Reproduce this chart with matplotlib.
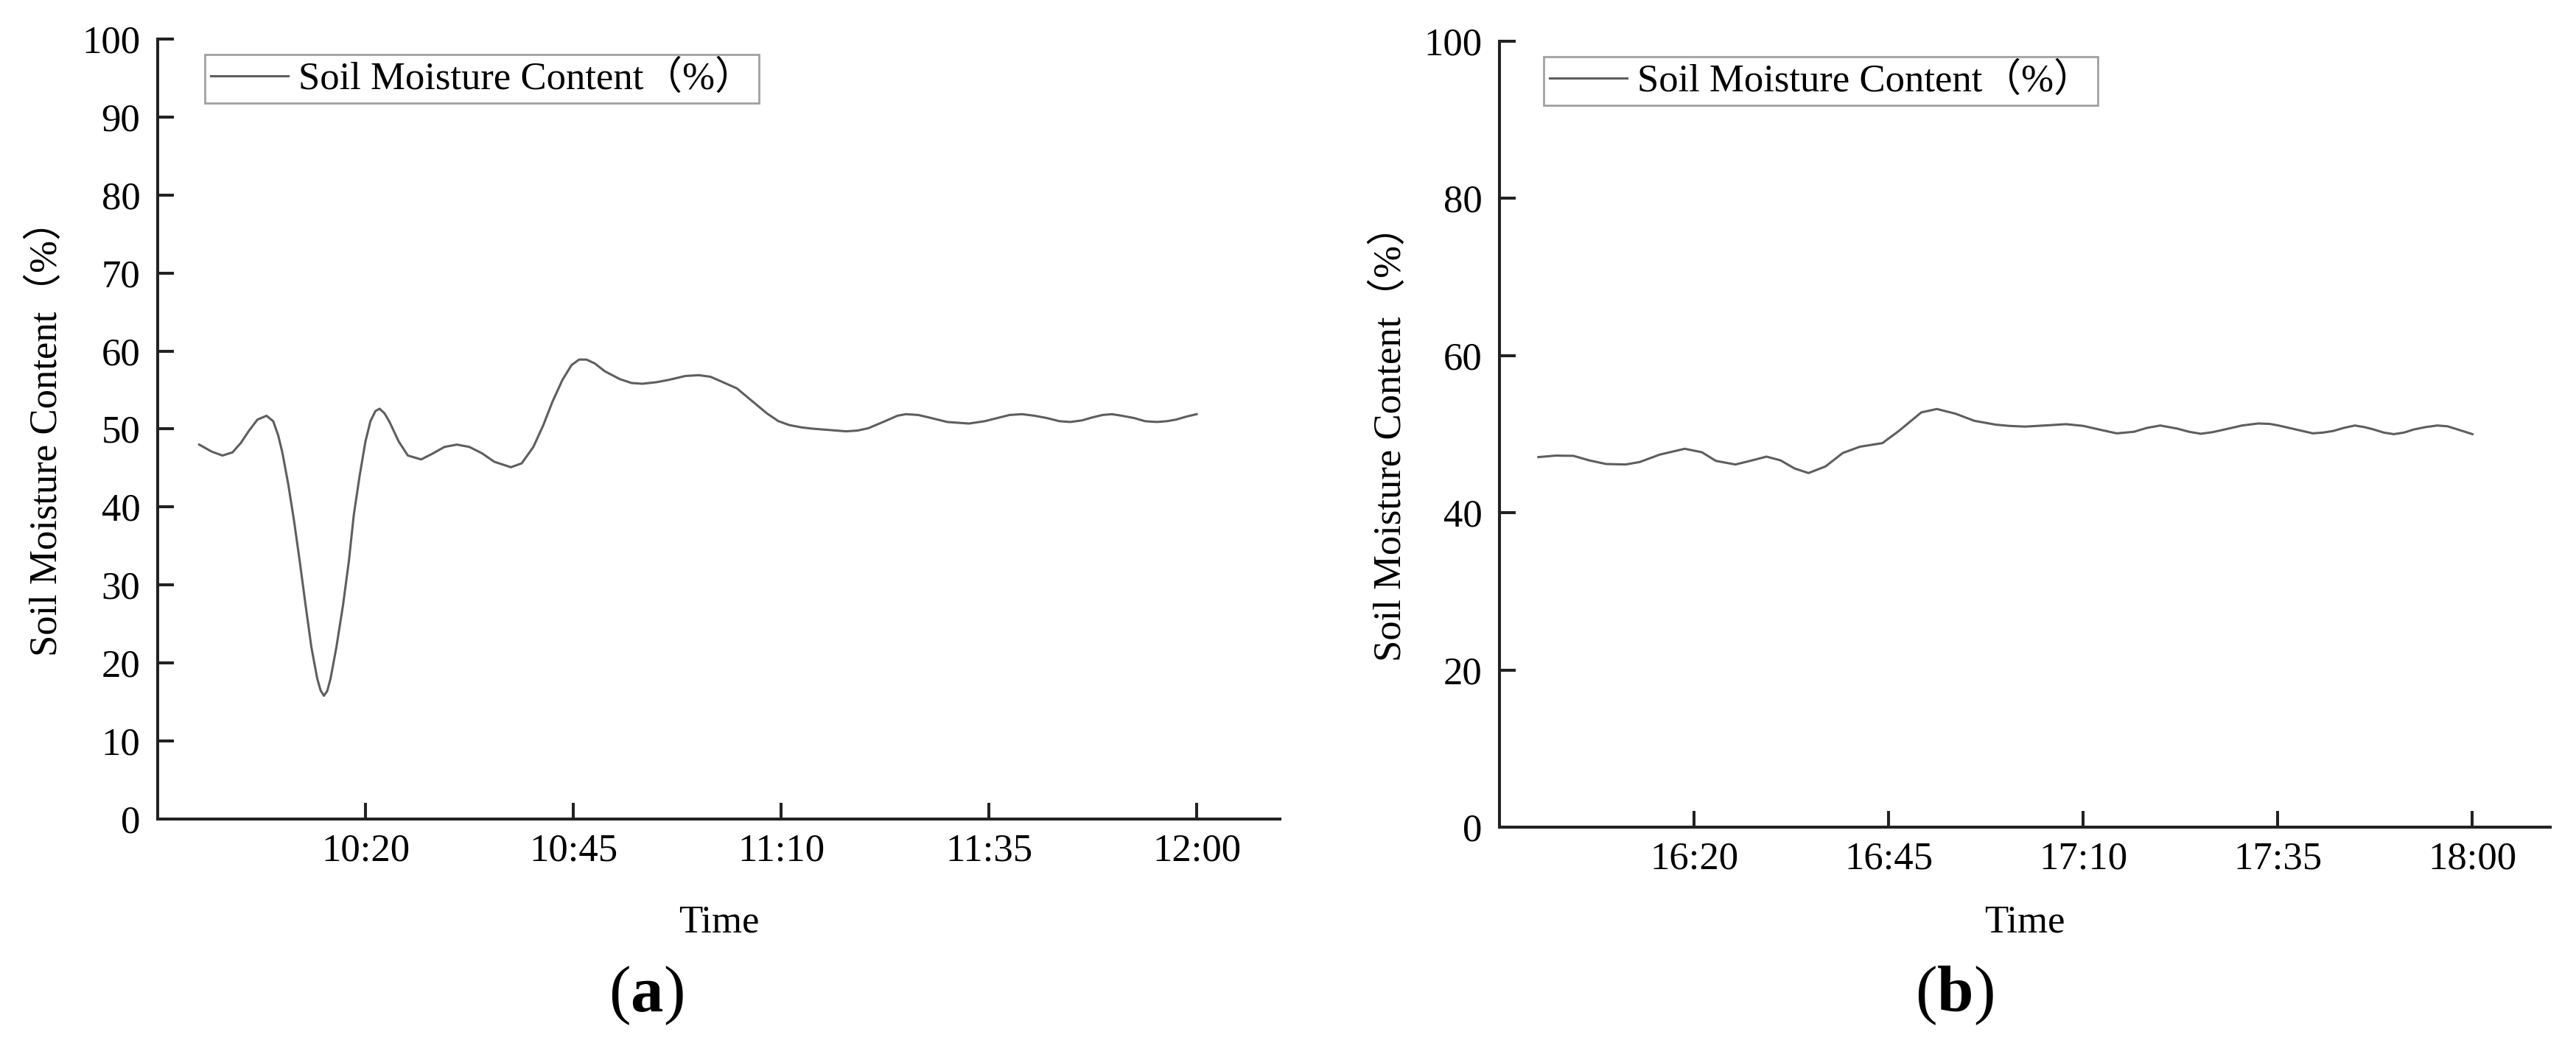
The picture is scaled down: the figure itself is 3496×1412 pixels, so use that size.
import matplotlib
matplotlib.use("Agg")
import matplotlib.pyplot as plt
import matplotlib.dates as mdates
import pandas as pd

plt.rcParams['font.family'] = ['Liberation Serif', 'Noto Sans CJK SC', 'DejaVu Sans']
plt.rcParams['mathtext.fontset'] = 'custom'
plt.rcParams['mathtext.rm'] = 'Liberation Serif'
plt.rcParams['mathtext.bf'] = 'Liberation Serif:bold'

# (a) morning run, minutes after 10:00
start_a = "2020-01-01 10:00"
min_a = [0, 1.5, 2.8, 4, 5, 6, 7, 8.1, 8.9, 9.5, 10.0, 10.7, 11.4, 12.1, 12.8, 13.5,
         14.2, 14.6, 15.0, 15.4, 15.8, 16.5, 17.3, 18.0, 18.6, 19.3, 20.0, 20.6, 21.2,
         21.7, 22.3, 22.9, 24.0, 25.1, 26.7, 28.0, 29.5, 31.0, 32.5, 34, 35.5, 37.5,
         38.8, 40.2, 41.4, 42.5, 43.7, 44.8, 45.7, 46.6, 47.6, 48.8, 50.6, 52, 53.3,
         55, 56.5, 58.5, 60.1, 61.5, 62.8, 64.7, 66.5, 68.3, 69.7, 71.0, 72.5, 73.7,
         75.5, 77.8, 79.2, 80.5, 82.5, 84, 85.0, 86.5, 88.1, 90, 92.6, 94.5, 96, 97.5,
         99.0, 100.5, 102, 103.5, 104.8, 106.2, 107.5, 108.7, 109.8, 111, 112.5,
         113.8, 115.2, 116.4, 117.5, 118.8, 120]
moist_a = [48.0, 47.1, 46.6, 47.0, 48.2, 49.8, 51.2, 51.7, 51.0, 49.2, 47.0, 43.0, 38.3,
           33.0, 27.4, 22.0, 18.0, 16.5, 15.8, 16.4, 18.0, 22.0, 27.4, 33.0, 39.0, 44.0,
           48.4, 51.0, 52.3, 52.6, 52.0, 50.9, 48.4, 46.6, 46.1, 46.8, 47.7, 48.0, 47.7,
           46.9, 45.8, 45.1, 45.6, 47.7, 50.5, 53.5, 56.3, 58.2, 58.9, 58.9, 58.4, 57.4,
           56.4, 55.9, 55.8, 56.0, 56.3, 56.8, 56.9, 56.7, 56.1, 55.2, 53.6, 52.0, 51.0,
           50.5, 50.2, 50.05, 49.9, 49.7, 49.8, 50.1, 51.0, 51.7, 51.9, 51.8, 51.4, 50.9,
           50.7, 51.0, 51.4, 51.8, 51.9, 51.7, 51.4, 51.0, 50.9, 51.1, 51.5, 51.8, 51.9,
           51.7, 51.4, 51.0, 50.9, 51.0, 51.2, 51.6, 51.9]

# (b) afternoon run, minutes after 16:00
start_b = "2020-01-01 16:00"
min_b = [0, 2.2, 4.5, 6.5, 8.7, 11.2, 13.0, 15.6, 18.8, 21.0, 22.8, 25.3, 27.5, 29.3,
         31.1, 32.9, 34.7, 36.9, 39.1, 41.3, 44.2, 46.3, 49.2, 51.2, 53.6, 56.0, 58.8,
         60.5, 62.5, 65, 67.8, 70.0, 72, 74.3, 76.5, 78.2, 79.9, 82.1, 83.6, 85.1, 86.6,
         88.2, 90.4, 92.5, 94, 95.1, 97.3, 99.5, 100.8, 102.1, 103.5, 104.9, 106.1,
         107.3, 108.6, 109.9, 111.2, 112.5, 114, 115.5, 116.8, 118.1, 120]
moist_b = [47.08, 47.27, 47.24, 46.67, 46.2, 46.14, 46.45, 47.4, 48.14, 47.7, 46.6,
           46.14, 46.67, 47.14, 46.67, 45.64, 45.05, 45.9, 47.6, 48.4, 48.86, 50.4,
           52.77, 53.2, 52.6, 51.7, 51.2, 51.05, 50.96, 51.1, 51.27, 51.05, 50.6, 50.1,
           50.3, 50.8, 51.1, 50.7, 50.3, 50.05, 50.25, 50.6, 51.1, 51.36, 51.3, 51.1,
           50.6, 50.1, 50.2, 50.4, 50.8, 51.1, 50.9, 50.6, 50.2, 50.0, 50.2, 50.6, 50.9,
           51.1, 51.0, 50.6, 50.0]

ticks_a = ["10:20", "10:45", "11:10", "11:35", "12:00"]
ticks_b = ["16:20", "16:45", "17:10", "17:35", "18:00"]
yticks_a = list(range(0, 101, 10))
yticks_b = list(range(0, 101, 20))

label = "Soil Moisture Content（%）"
FS = 38

fig = plt.figure(figsize=(34.96, 14.12), dpi=100)
ax_a = fig.add_axes([0.0612, 0.2125, 0.4356, 0.750])
ax_b = fig.add_axes([0.5821, 0.2047, 0.4079, 0.7557])


def draw(ax, start, mins, vals, ticks, yticks, ylab_x, xlab_y):
    t0 = pd.Timestamp(start)
    times = t0 + pd.to_timedelta(mins, unit="min")
    ax.plot(times, vals, color="#5e5e5e", lw=2.2, label=label)
    day = start.split(" ")[0]
    ax.set_xlim(t0 - pd.Timedelta(minutes=5), t0 + pd.Timedelta(minutes=130))
    ax.set_xticks([pd.Timestamp(day + " " + s) for s in ticks])
    ax.xaxis.set_major_formatter(mdates.DateFormatter("%H:%M"))
    ax.set_ylim(0, 100)
    ax.set_yticks(yticks)
    for s in ["top", "right"]:
        ax.spines[s].set_visible(False)
    for s in ["left", "bottom"]:
        ax.spines[s].set_linewidth(2.9)
        ax.spines[s].set_color("#222222")
    ax.tick_params(axis="both", direction="in", length=16, width=2.9,
                   color="#222222", labelsize=FS)
    ax.tick_params(axis="x", pad=14)
    ax.tick_params(axis="y", pad=17)
    ax.set_ylabel(label, fontsize=FS)
    ax.yaxis.set_label_coords(ylab_x, 0.5)
    ax.set_xlabel("Time", fontsize=FS)
    ax.xaxis.set_label_coords(0.5, xlab_y)
    leg = ax.legend(loc="upper left", bbox_to_anchor=(0.042, 0.98), fontsize=FS,
                    frameon=True, fancybox=False, borderaxespad=0, borderpad=0.15,
                    handlelength=2.0, handletextpad=0.25)
    leg.get_frame().set_edgecolor("#8a8a8a")
    leg.get_frame().set_linewidth(2.0)


draw(ax_a, start_a, min_a, moist_a, ticks_a, yticks_a, -0.083, -0.11)
draw(ax_b, start_b, min_b, moist_b, ticks_b, yticks_b, -0.086, -0.099)

fig.text(0.2509, 0.043, r"$\mathrm{(}\mathbf{a}\mathrm{)}$", fontsize=64,
         ha="center", va="center")
fig.text(0.7586, 0.043, r"$\mathrm{(}\mathbf{b}\mathrm{)}$", fontsize=64,
         ha="center", va="center")

fig.savefig("out.png", dpi=100, facecolor="white")
